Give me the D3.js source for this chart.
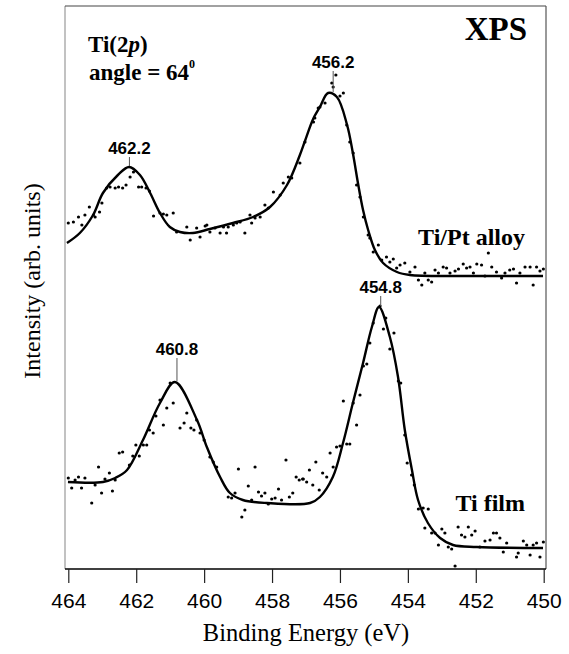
<!DOCTYPE html>
<html lang="en">
<head>
<meta charset="UTF-8">
<title>XPS Ti(2p)</title>
<script src="https://d3js.org/d3.v7.min.js"></script>
<style>
  body { margin: 0; background: #fff; }
  svg { display: block; }
</style>
</head>
<body>
<div id="chart"></div>
<script>
// tick labels on the binding energy axis
const energyTicks = [464, 462, 460, 458, 456, 454, 452, 450];

// Ti/Pt alloy - fitted curve (binding energy eV, intensity arb.)
const alloyFitE = [464.04, 463.66, 463.27, 462.98, 462.54, 462.21, 461.89, 461.59, 461.30, 461.01,
  460.71, 460.33, 459.83, 459.15, 458.56, 458.06, 457.56, 457.18, 457.03, 456.79, 456.59, 456.35,
  456.09, 455.79, 455.62, 455.47, 455.32, 455.17, 454.97, 454.73, 454.32, 453.94, 452.5, 451.0, 450.02];
const alloyFitI = [326, 336, 354, 376, 394, 402, 394, 376, 356, 342,
  337, 336, 340, 346, 352, 362, 384, 414, 428, 450, 462, 476,
  472, 444, 416, 386, 359, 339, 319, 306, 297, 294, 293, 293, 293];

// Ti/Pt alloy - measured points
const alloyPtsE = [464.00, 463.85, 463.70, 463.60, 463.51, 463.38, 463.26, 463.21, 463.08, 463.01,
  462.87, 462.77, 462.62, 462.52, 462.40, 462.30, 462.18, 462.08, 461.93, 461.84, 461.71, 461.61,
  461.49, 461.30, 461.20, 461.10, 460.91, 460.81, 460.51, 460.41, 460.22, 460.12, 459.97, 459.92,
  459.83, 459.68, 459.53, 459.43, 459.34, 459.29, 459.14, 459.04, 458.94, 458.80, 458.65, 458.60,
  458.50, 458.35, 458.21, 458.11, 457.96, 457.76, 457.67, 457.52, 457.42, 457.18, 457.03, 456.78,
  456.74, 456.64, 456.59, 456.44, 456.24, 456.20, 456.12, 456.00, 455.90, 455.80, 455.71, 455.61,
  455.51, 455.41, 455.31, 455.17, 455.12, 455.02, 454.87, 454.77, 454.63, 454.53, 454.43, 454.33,
  454.23, 454.09, 453.94, 453.79, 453.69, 453.59, 453.50, 453.40, 453.30, 453.20, 453.10, 452.96,
  452.86, 452.76, 452.61, 452.51, 452.37, 452.27, 452.17, 452.07, 451.97, 451.83, 451.73, 451.63,
  451.53, 451.39, 451.24, 451.14, 451.00, 450.89, 450.80, 450.70, 450.55, 450.40, 450.31, 450.21,
  450.11, 450.01];
const alloyPtsI = [346, 347, 352, 344, 354, 362, 354, 352, 357, 366,
  381, 382, 381, 382, 381, 384, 392, 397, 382, 382, 381, 378,
  353, 356, 355, 354, 356, 337, 342, 329, 341, 332, 343, 344,
  337, 341, 336, 342, 336, 342, 344, 346, 347, 336, 354, 346,
  351, 352, 364, 361, 377, 374, 386, 392, 391, 406, 427, 447,
  451, 461, 462, 466, 486, 482, 494, 473, 476, 444, 427, 416,
  384, 372, 352, 334, 331, 317, 324, 309, 312, 307, 310, 301,
  304, 306, 297, 302, 289, 284, 296, 289, 287, 299, 296, 302,
  301, 296, 298, 300, 305, 301, 302, 296, 305, 304, 293, 316,
  302, 297, 291, 296, 299, 300, 286, 296, 302, 302, 284, 302,
  298, 300];

// Ti film - fitted curve
const filmFitE = [464.01, 462.98, 462.62, 462.27, 461.80, 461.30, 460.86, 460.21, 459.92, 459.53,
  459.24, 458.86, 458.15, 456.88, 456.59, 456.21, 455.91, 455.62, 455.32, 455.06, 454.85, 454.53,
  454.29, 454.09, 453.88, 453.70, 453.41, 453.05, 452.67, 451.97, 450.02];
const filmFitI = [87, 87, 91, 99, 129, 166, 187, 149, 122, 92,
  76, 69, 66, 66, 72, 92, 126, 166, 206, 242, 262, 232,
  192, 139, 99, 69, 46, 31, 24, 22, 21];

// Ti film - measured points
const filmPtsE = [464.00, 463.90, 463.80, 463.70, 463.61, 463.51, 463.31, 463.21, 463.11, 463.02,
  462.92, 462.79, 462.70, 462.62, 462.50, 462.40, 462.20, 462.10, 462.01, 461.91, 461.79, 461.69,
  461.61, 461.50, 461.42, 461.30, 461.20, 461.10, 461.00, 460.91, 460.71, 460.59, 460.51, 460.39,
  460.30, 460.22, 460.12, 460.00, 459.83, 459.73, 459.63, 459.29, 459.19, 459.09, 458.99, 458.89,
  458.80, 458.70, 458.60, 458.50, 458.40, 458.31, 458.21, 458.11, 458.01, 457.91, 457.81, 457.72,
  457.59, 457.49, 457.39, 457.29, 457.20, 457.10, 457.08, 456.98, 456.90, 456.80, 456.71, 456.61,
  456.51, 456.39, 456.29, 456.20, 456.10, 456.00, 455.90, 455.80, 455.71, 455.61, 455.51, 455.41,
  455.31, 455.21, 455.12, 455.02, 454.82, 454.72, 454.65, 454.53, 454.41, 454.28, 454.21, 454.09,
  454.02, 453.89, 453.81, 453.69, 453.55, 453.40, 453.50, 453.30, 453.20, 453.10, 453.00, 452.91,
  452.81, 452.71, 452.61, 452.52, 452.42, 452.32, 452.22, 452.12, 452.02, 451.88, 451.73, 451.58,
  451.48, 451.39, 451.29, 451.19, 451.09, 450.80, 450.75, 450.60, 450.50, 450.40, 450.31, 450.21,
  450.11, 450.01];
const filmPtsI = [91, 81, 89, 92, 81, 91, 66, 84, 102, 76,
  90, 96, 78, 89, 116, 117, 104, 113, 124, 113, 124, 124,
  139, 136, 153, 169, 144, 161, 186, 166, 141, 146, 156, 141,
  139, 149, 136, 129, 112, 107, 102, 72, 71, 76, 100, 52,
  59, 83, 69, 102, 77, 73, 76, 65, 70, 71, 80, 69,
  109, 72, 76, 92, 89, 90, 90, 87, 99, 84, 107, 79,
  96, 92, 116, 102, 122, 123, 168, 125, 125, 166, 144, 174,
  203, 205, 226, 246, 263, 240, 251, 220, 236, 188, 186, 134,
  106, 94, 84, 60, 61, 60, 41, 36, 36, 24, 40, 36,
  22, 20, 3, 42, 34, 32, 42, 34, 38, 22, 28, 29,
  36, 36, 31, 17, 26, 12, 16, 28, 24, 14, 24, 26,
  12, 27];

// peak annotations
const peakText = ["462.2", "456.2", "460.8", "454.8"];
const peakE = [462.2, 456.2, 460.8, 454.8];
const peakI = [402, 476, 187, 262];
const peakGap = [13, 25, 27, 14];   // px between label baseline and peak top

const W = 569, H = 654;
const frame = {left: 65, top: 6, right: 546, bottom: 569};

const svg = d3.select("#chart").append("svg")
  .attr("width", W)
  .attr("height", H);

const x = d3.scaleLinear().domain([464, 450]).range([68.3, 543.7]);
const y = d3.scaleLinear().domain([0, 563]).range([frame.bottom, frame.top]);

// frame
svg.append("line").attr("x1", frame.left).attr("x2", frame.left)
  .attr("y1", frame.top).attr("y2", frame.bottom)
  .attr("stroke", "#999").attr("stroke-width", 1.2);
svg.append("line").attr("x1", frame.left).attr("x2", frame.right)
  .attr("y1", frame.top).attr("y2", frame.top)
  .attr("stroke", "#444").attr("stroke-width", 1.2);
svg.append("line").attr("x1", frame.right).attr("x2", frame.right)
  .attr("y1", frame.top).attr("y2", frame.bottom)
  .attr("stroke", "#555").attr("stroke-width", 1.2);
svg.append("line").attr("x1", frame.left).attr("x2", frame.right)
  .attr("y1", frame.bottom).attr("y2", frame.bottom)
  .attr("stroke", "#000").attr("stroke-width", 1.3);

// x axis
const xAxis = d3.axisBottom(x)
  .tickValues(energyTicks)
  .tickFormat(d3.format("d"))
  .tickSizeInner(14)
  .tickSizeOuter(0)
  .tickPadding(10);

const gx = svg.append("g")
  .attr("transform", "translate(0," + frame.bottom + ")")
  .call(xAxis);
gx.select(".domain").remove();
gx.selectAll(".tick line").attr("stroke", "#222").attr("stroke-width", 1.2);
gx.selectAll(".tick text")
  .attr("fill", "#000")
  .style("font-family", "'Liberation Sans', Arial, sans-serif")
  .style("font-size", "21px");

// axis titles
svg.append("text")
  .attr("x", (x(464) + x(450)) / 2)
  .attr("y", 641)
  .attr("text-anchor", "middle")
  .style("font-family", "'Liberation Serif', 'Times New Roman', serif")
  .style("font-size", "24.5px")
  .text("Binding Energy (eV)");

svg.append("text")
  .attr("transform", "translate(40,281) rotate(-90)")
  .attr("text-anchor", "middle")
  .style("font-family", "'Liberation Serif', 'Times New Roman', serif")
  .style("font-size", "24px")
  .text("Intensity (arb. units)");

// data
function series(E, I) {
  return E.map(function (e, i) { return {e: e, v: I[i]}; });
}
const line = d3.line()
  .x(function (d) { return x(d.e); })
  .y(function (d) { return y(d.v); })
  .curve(d3.curveCatmullRom.alpha(0.5));

[series(alloyFitE, alloyFitI), series(filmFitE, filmFitI)].forEach(function (s) {
  svg.append("path")
    .datum(s)
    .attr("d", line)
    .attr("fill", "none")
    .attr("stroke", "#000")
    .attr("stroke-width", 2.4);
});

[series(alloyPtsE, alloyPtsI), series(filmPtsE, filmPtsI)].forEach(function (s) {
  svg.append("g").selectAll("circle")
    .data(s)
    .enter()
    .append("circle")
      .attr("cx", function (d) { return x(d.e); })
      .attr("cy", function (d) { return y(d.v); })
      .attr("r", 1.6)
      .attr("fill", "#000");
});

// peak labels
peakText.forEach(function (t, i) {
  const px = x(peakE[i]);
  const top = y(peakI[i]);
  const base = top - peakGap[i];
  svg.append("line")
    .attr("x1", px).attr("x2", px)
    .attr("y1", base + 3).attr("y2", top - 1)
    .attr("stroke", "#555").attr("stroke-width", 1);
  svg.append("text")
    .attr("x", px)
    .attr("y", base)
    .attr("text-anchor", "middle")
    .style("font-family", "'Liberation Sans', Arial, sans-serif")
    .style("font-weight", "bold")
    .style("font-size", "17px")
    .text(t);
});

// text annotations
const serifBold = function (sel, size) {
  return sel.style("font-family", "'Liberation Serif', 'Times New Roman', serif")
    .style("font-weight", "bold").style("font-size", size + "px");
};

serifBold(svg.append("text").attr("x", 527).attr("y", 40).attr("text-anchor", "end"), 33)
  .text("XPS");

const t1 = serifBold(svg.append("text").attr("x", 88).attr("y", 52), 23);
t1.append("tspan").text("Ti(2");
t1.append("tspan").style("font-style", "italic").text("p");
t1.append("tspan").text(")");

const t2 = serifBold(svg.append("text").attr("x", 89).attr("y", 80), 23);
t2.append("tspan").text("angle = 64");
t2.append("tspan").attr("dy", -12).style("font-size", "12px").text("0");

serifBold(svg.append("text").attr("x", 525).attr("y", 245).attr("text-anchor", "end"), 24)
  .text("Ti/Pt alloy");
serifBold(svg.append("text").attr("x", 525).attr("y", 511).attr("text-anchor", "end"), 24)
  .text("Ti film");
</script>
</body>
</html>
